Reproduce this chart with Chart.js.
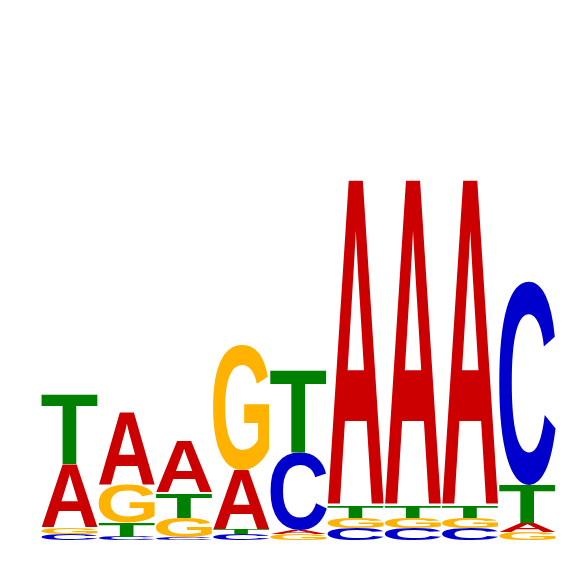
<!DOCTYPE html>
<html>
<head>
<meta charset="utf-8">
<script src="https://cdn.jsdelivr.net/npm/chart.js@4/dist/chart.umd.min.js"></script>
<style>
html,body{margin:0;padding:0;background:#fff;}
#wrap{width:566px;height:566px;}
</style>
</head>
<body>
<div id="wrap"><canvas id="c" width="566" height="566"></canvas></div>
<script>
// Motif positions
const positions = ['1','2','3','4','5','6','7','8','9'];
// Letter heights (bits) per position
const A = [0.352, 0.398, 0.287, 0.328, 0.022, 1.811, 1.811, 1.811, 0.050];
const C = [0.033, 0.018, 0.017, 0.033, 0.428, 0.067, 0.067, 0.067, 1.133];
const G = [0.037, 0.213, 0.106, 0.694, 0.033, 0.056, 0.056, 0.056, 0.044];
const T = [0.385, 0.079, 0.139, 0.028, 0.461, 0.067, 0.067, 0.067, 0.211];
// Stacking order per position, bottom to top
const stackOrder = ['CGAT','CTGA','CGTA','CTAG','GACT','CGTA','CGTA','CGTA','GATC'];
const letterColors = {A:'#CC0000', C:'#0000CC', G:'#FFB300', T:'#008000'};
const yMax = 3;

const heights = {A, C, G, T};
const rankLetters = [[],[],[],[]];
const rankValues = [[],[],[],[]];
positions.forEach((p, i) => {
  stackOrder[i].split('').forEach((L, r) => { rankLetters[r].push(L); rankValues[r].push(heights[L][i]); });
});
const datasets = rankValues.map((vals, r) => ({
  label: 'rank' + r,
  data: vals,
  letters: rankLetters[r],
  backgroundColor: 'rgba(0,0,0,0)',
  borderWidth: 0,
  stack: 's',
  barPercentage: 0.985,
  categoryPercentage: 1.0
}));

const logoPlugin = {
  id: 'logo',
  afterDatasetsDraw(chart) {
    const ctx = chart.ctx;
    chart.data.datasets.forEach((ds, di) => {
      const meta = chart.getDatasetMeta(di);
      meta.data.forEach((bar, i) => {
        const L = ds.letters[i];
        const x0 = bar.x - bar.width / 2;
        const w = bar.width;
        const top = Math.min(bar.y, bar.base);
        const h = Math.abs(bar.base - bar.y);
        if (h < 0.5) return;
        ctx.save();
        ctx.font = 'bold 200px "Liberation Sans", Arial, sans-serif';
        ctx.textBaseline = 'alphabetic';
        ctx.textAlign = 'left';
        const m = ctx.measureText(L);
        const gl = -m.actualBoundingBoxLeft;
        const gr = m.actualBoundingBoxRight;
        const gt = -m.actualBoundingBoxAscent;
        const gb = m.actualBoundingBoxDescent;
        ctx.translate(x0, top);
        ctx.scale(w / (gr - gl), h / (gb - gt));
        ctx.fillStyle = letterColors[L];
        ctx.fillText(L, -gl, -gt);
        ctx.restore();
      });
    });
  }
};

new Chart(document.getElementById('c'), {
  type: 'bar',
  data: { labels: positions, datasets },
  options: {
    responsive: false,
    animation: false,
    devicePixelRatio: 1,
    layout: { padding: { left: 41, right: 10, top: 0, bottom: 26 } },
    plugins: { legend: { display: false }, tooltip: { enabled: false }, title: { display: false } },
    scales: {
      x: { display: false, stacked: true, offset: true, grid: { display: false } },
      y: { display: false, stacked: true, min: 0, max: yMax, grid: { display: false } }
    }
  },
  plugins: [logoPlugin]
});
</script>
</body>
</html>
